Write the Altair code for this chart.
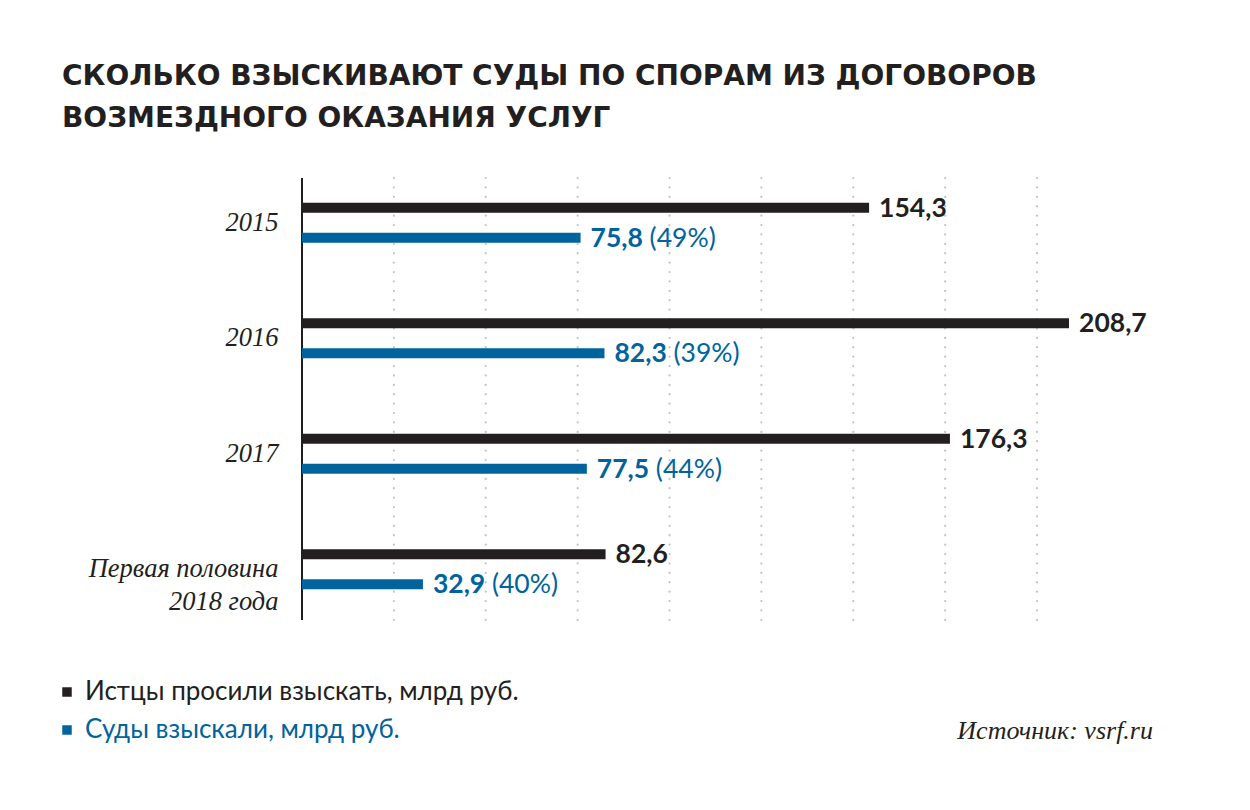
import altair as alt
import pandas as pd

# ---- data ----
categories = ["2015", "2016", "2017", "Первая половина|2018 года"]
claimed = [154.3, 208.7, 176.3, 82.6]        # Истцы просили взыскать
awarded = [75.8, 82.3, 77.5, 32.9]           # Суды взыскали
awarded_pct = [49, 39, 44, 40]
series = ["Истцы просили взыскать, млрд руб.", "Суды взыскали, млрд руб."]
grid_ticks = [25, 50, 75, 100, 125, 150, 175, 200]
title_lines = ["СКОЛЬКО ВЗЫСКИВАЮТ СУДЫ ПО СПОРАМ ИЗ ДОГОВОРОВ",
               "ВОЗМЕЗДНОГО ОКАЗАНИЯ УСЛУГ"]
source_text = ["Источник: vsrf.ru"]

BLACK = "#231f20"
BLUE = "#00639e"

rows = []
for c, v in zip(categories, claimed):
    rows.append({"cat": c, "series": series[0], "value": v, "pct": None})
for c, v, p in zip(categories, awarded, awarded_pct):
    rows.append({"cat": c, "series": series[1], "value": v, "pct": p})
df = pd.DataFrame(rows)
grid_df = pd.DataFrame({"t": grid_ticks})
legend_df = pd.DataFrame({"label": series})
src_df = pd.DataFrame({"label": source_text})

W, H = 860, 462
xscale = alt.Scale(domain=[0, 234], nice=False)
color_scale = alt.Scale(domain=series, range=[BLACK, BLUE])

y_enc = alt.Y("cat:N", sort=categories, scale=alt.Scale(paddingInner=0, paddingOuter=0),
              axis=alt.Axis(title=None, domain=False, ticks=False, labelPadding=24,
                            labelFont="Liberation Serif", labelFontStyle="italic",
                            labelFontSize=26.5, labelColor=BLACK, labelLineHeight=33,
                            labelLimit=400,
                            labelExpr="split(datum.value, '|')"))
yoff_enc = alt.YOffset("series:N", sort=series,
                       scale=alt.Scale(paddingInner=0, paddingOuter=0.925))
color_enc = alt.Color("series:N", sort=series, scale=color_scale, legend=None)

base = alt.Chart(df)

grid = alt.Chart(grid_df).mark_rule(color="#c4c4c4", strokeWidth=2.2,
                                    strokeDash=[0.1, 9.3], strokeCap="round").encode(
    x=alt.X("t:Q", scale=xscale, axis=None),
    y=alt.value(13), y2=alt.value(455))

axis_line = alt.Chart(grid_df).mark_rule(color=BLACK, strokeWidth=1.3).encode(
    x=alt.value(0), y=alt.value(13), y2=alt.value(455))

bars = base.mark_bar(size=10).encode(
    x=alt.X("value:Q", scale=xscale, axis=None),
    y=y_enc, yOffset=yoff_enc, color=color_enc)

val_text = base.mark_text(align="left", baseline="middle", dx=10, dy=1,
                          font="Lato", fontWeight="bold", fontSize=26.5).transform_calculate(
    lbl="replace(format(datum.value, '.1f'), '.', ',')").encode(
    x=alt.X("value:Q", scale=xscale), y=y_enc, yOffset=yoff_enc,
    text="lbl:N", color=color_enc)

pct_text = base.transform_filter("datum.pct != null").transform_calculate(
    lbl="'(' + datum.pct + '%)'").mark_text(
    align="left", baseline="middle", dx=69, dy=1, font="Lato", fontSize=26.5,
    color=BLUE).encode(
    x=alt.X("value:Q", scale=xscale), y=y_enc, yOffset=yoff_enc, text="lbl:N")

legend_layers = []
for i, (lab, col) in enumerate(zip(series, [BLACK, BLUE])):
    ypix = 527 + 38 * i
    sub = alt.Chart(legend_df).transform_filter(alt.datum.label == lab)
    legend_layers.append(sub.mark_square(size=90, opacity=1, color=col).encode(
        x=alt.value(-235), y=alt.value(ypix)))
    legend_layers.append(sub.mark_text(align="left", baseline="middle", font="Lato",
                                       fontSize=26, color=col).encode(
        x=alt.value(-217), y=alt.value(ypix), text="label:N"))

src = alt.Chart(src_df).mark_text(align="right", baseline="middle", font="Liberation Serif",
                                  fontStyle="italic", fontSize=26, color=BLACK).encode(
    x=alt.value(851), y=alt.value(566), text="label:N")

chart = alt.layer(grid, axis_line, bars, val_text, pct_text, *legend_layers, src).properties(
    width=W, height=H,
    background="white",
    title=alt.TitleParams(text=title_lines, anchor="start", frame="group", dx=-240,
                          font="DejaVu Sans", fontWeight="bold", fontSize=28,
                          lineHeight=42, color=BLACK, offset=32),
    autosize=alt.AutoSizeParams(type="none"),
    padding={"left": 302, "top": 165, "right": 88, "bottom": 183},
).configure_view(stroke="transparent", strokeWidth=0)

chart.save("out.html", embed_options={"renderer": "svg", "actions": False})
